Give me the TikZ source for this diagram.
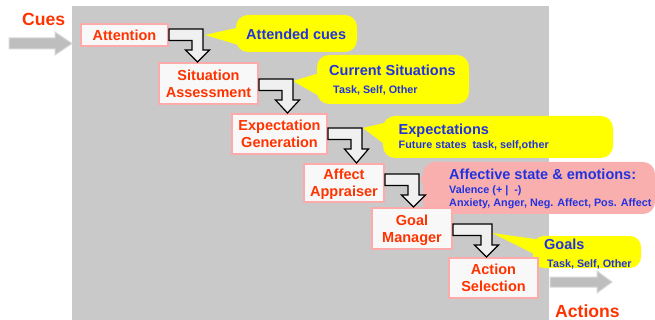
\documentclass[tikz,border=0pt]{standalone}
\usepackage{fontspec}
\setmainfont{Liberation Sans}
\usetikzlibrary{calc}
\definecolor{cuered}{RGB}{255,51,0}
\definecolor{boxpink}{RGB}{255,170,170}
\definecolor{boxfill}{RGB}{248,248,248}
\definecolor{bggray}{RGB}{201,201,201}
\definecolor{calloutyellow}{RGB}{255,255,0}
\definecolor{calloutpink}{RGB}{250,175,175}
\definecolor{textblue}{RGB}{34,51,221}
\definecolor{arrgray}{RGB}{190,190,190}
\definecolor{arrgrayline}{RGB}{216,216,216}
\definecolor{stepfill}{RGB}{240,240,240}
\tikzset{
  stage/.style={draw=boxpink, line width=2pt, fill=boxfill, text=cuered,
    font=\bfseries\fontsize{14.5}{17}\selectfont, align=center, inner sep=0pt},
  steparr/.style={draw=black, line width=1.2pt, fill=stepfill, line join=miter},
  grayarr/.style={draw=arrgrayline, line width=1pt, fill=arrgray},
  bigred/.style={text=cuered, font=\bfseries\fontsize{17.6}{20}\selectfont, anchor=base west, inner sep=0pt},
  ctitle/.style={text=textblue, font=\bfseries\fontsize{14.5}{17}\selectfont, anchor=base west, inner sep=0pt},
  csub/.style={text=textblue, font=\bfseries\fontsize{10.8}{13}\selectfont, anchor=base west, inner sep=0pt},
  ycall/.style={fill=calloutyellow},
  pcall/.style={fill=calloutpink}
}
\newcommand\stepArrow[4]{%
  \draw[steparr] (#1.east |- 0,#2) -- (#3,#2) -- (#3,#2+21) -- (#3+6.5,#2+21)
    -- ({#3-5.5},0 |- #4.north) -- (#3-17.5,#2+21) -- (#3-11,#2+21)
    -- (#3-11,#2+11.5) -- (#1.east |- 0,#2+11.5) -- cycle;}
\begin{document}
\begin{tikzpicture}[x=1pt,y=-1pt]
\useasboundingbox (0,0) rectangle (655,320);
\fill[bggray] (72,6) rectangle (549,320);

% input / output arrows
\draw[grayarr] (9,38) -- (55,38) -- (55,32) -- (72,43.5) -- (55,55) -- (55,49) -- (9,49) -- cycle;
\draw[grayarr] (550,277) -- (597,277) -- (597,271) -- (612,282) -- (597,293) -- (597,287) -- (550,287) -- cycle;
\node[bigred] (cues) at (22,26) {Cues};
\node[bigred] (actions) at (555,317) {Actions};

% callouts
\fill[ycall] (205,35) -- (245,26) -- (245,47) -- cycle;
\fill[ycall, rounded corners=12] (236,15) rectangle (357,52);
\fill[ycall] (293,81) -- (326,71) -- (326,100) -- cycle;
\fill[ycall, rounded corners=12] (317,55) rectangle (469,104);
\fill[ycall] (363,128) -- (392,121) -- (392,150) -- cycle;
\fill[ycall, rounded corners=12] (383,116) rectangle (613,158);
\fill[pcall] (420,178) -- (432,170) -- (432,200) -- cycle;
\fill[pcall, rounded corners=12] (423,162) rectangle (655,214);
\fill[ycall] (492,233) -- (542,240) -- (542,258) -- cycle;
\fill[ycall, rounded corners=11] (533,236) rectangle (641,268);

\node[ctitle] (t1) at (246,39.5) {Attended cues};
\node[ctitle] (t2) at (329,76) {Current Situations};
\node[csub] (s2) at (333,94) {Task, Self, Other};
\node[ctitle] (t3) at (398.5,134.5) {Expectations};
\node[csub] (s3) at (398.5,149) {Future states~~task, self,other};
\node[ctitle] (t4) at (449,180) {Affective state \& emotions:};
\node[csub] (s4a) at (449,193.5) {Valence (+ |~ -)};
\node[csub] (s4b) at (449,206.5) {Anxiety, Anger, Neg. Affect, Pos. Affect};
\node[ctitle] (t5) at (544,249) {Goals};
\node[csub] (s5) at (547,267) {Task, Self, Other};

% stages
\node[stage, minimum width=87pt, minimum height=22.5pt] (att) at (124.5,35.25) {Attention};
\node[stage, minimum width=99pt, minimum height=41pt] (sit) at (208.5,83.5) {Situation\\Assessment};
\node[stage, minimum width=95pt, minimum height=40pt] (exp) at (279.5,134) {Expectation\\Generation};
\node[stage, minimum width=80pt, minimum height=38pt] (aff) at (344,183) {Affect\\\smash{Appraiser}};
\node[stage, minimum width=80pt, minimum height=41pt] (goal) at (412,228.5) {Goal\\\smash{Manager}};
\node[stage, minimum width=89pt, minimum height=40pt] (act) at (493.5,278) {Action\\Selection};

% step arrows
\stepArrow{att}{29}{203}{sit}
\stepArrow{sit}{79}{293}{exp}
\stepArrow{exp}{128}{362}{aff}
\stepArrow{aff}{174}{419}{goal}
\stepArrow{goal}{224}{492}{act}
\end{tikzpicture}
\end{document}
